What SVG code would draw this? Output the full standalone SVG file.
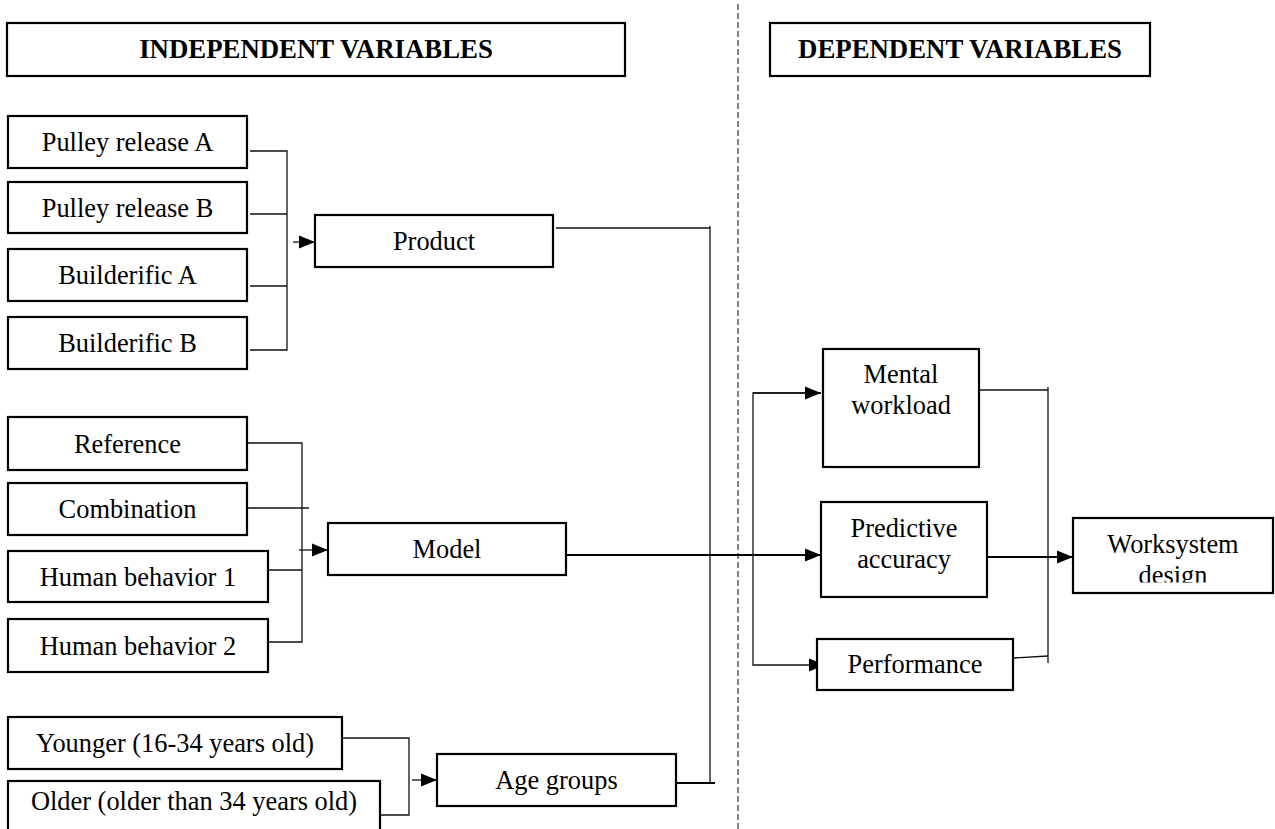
<svg xmlns="http://www.w3.org/2000/svg" width="1275" height="829" viewBox="0 0 1275 829">
<style>
.box{fill:#fff;stroke:#000;stroke-width:2.2}
.t{font-family:"Liberation Serif","Times New Roman",serif;font-size:26.4px;fill:#000;text-anchor:middle}
.h{font-family:"Liberation Serif","Times New Roman",serif;font-size:26.8px;font-weight:bold;fill:#000;text-anchor:middle}
.c{fill:none;stroke:#111;stroke-width:1.3}
.ct{fill:none;stroke:#000;stroke-width:2}
.dash{fill:none;stroke:#333;stroke-width:1.2;stroke-dasharray:6 3}
</style>
<defs>
<marker id="ah" markerWidth="16" markerHeight="14" refX="16" refY="7" orient="auto" markerUnits="userSpaceOnUse"><path d="M0,0.5 L16,7 L0,13.5 z" fill="#000"/></marker>
<clipPath id="wsclip"><rect x="1073" y="518" width="202" height="64.5"/></clipPath>
</defs>

<g id="divider"><line class="dash" x1="738" y1="4" x2="738" y2="829"/></g>

<g id="hdr-independent"><rect class="box" x="7" y="23" width="618" height="53"/><text class="h" x="316" y="58">INDEPENDENT VARIABLES</text></g>
<g id="hdr-dependent"><rect class="box" x="770" y="23" width="380" height="53"/><text class="h" x="960" y="58">DEPENDENT VARIABLES</text></g>

<g id="connectors">
<polyline class="c" points="250,151 287,151 287,350 250,350"/>
<line class="c" x1="250" y1="214" x2="287" y2="214"/>
<line class="c" x1="250" y1="286" x2="287" y2="286"/>
<line class="c" x1="293" y1="242" x2="315" y2="242" marker-end="url(#ah)"/>
<polyline class="c" points="248,443 302,443 302,642 265,642"/>
<line class="c" x1="248" y1="508" x2="309" y2="508"/>
<line class="c" x1="265" y1="570" x2="302" y2="570"/>
<line class="c" x1="299" y1="550" x2="328" y2="550" marker-end="url(#ah)"/>
<polyline class="c" points="342,738 409,738 409,815 380,815"/>
<line class="c" x1="412" y1="780" x2="437" y2="780" marker-end="url(#ah)"/>
<polyline class="c" points="556,228 710,228"/>
<line class="c" x1="710" y1="226" x2="710" y2="783"/>
<line class="ct" x1="676" y1="783" x2="715" y2="783"/>
<line class="ct" x1="566" y1="555" x2="821" y2="555" marker-end="url(#ah)"/>
<polyline class="c" points="821,393 753,393 753,665 825,665" marker-end="url(#ah)"/>
<line class="c" x1="753" y1="393" x2="821" y2="393" marker-end="url(#ah)"/>
<polyline class="c" points="980,390 1048,390"/>
<line class="c" x1="1048" y1="387" x2="1048" y2="663"/>
<line class="c" x1="1014" y1="658" x2="1048" y2="656"/>
<line class="ct" x1="982" y1="557" x2="1073" y2="557" marker-end="url(#ah)"/>
</g>

<g id="n-pulleyA"><rect class="box" x="8" y="116" width="239" height="52"/><text class="t" x="127.5" y="151">Pulley release A</text></g>
<g id="n-pulleyB"><rect class="box" x="8" y="182" width="239" height="51"/><text class="t" x="127.5" y="216.5">Pulley release B</text></g>
<g id="n-buildA"><rect class="box" x="8" y="249" width="239" height="52"/><text class="t" x="127.5" y="284">Builderific A</text></g>
<g id="n-buildB"><rect class="box" x="8" y="317" width="239" height="52"/><text class="t" x="127.5" y="352">Builderific B</text></g>
<g id="n-product"><rect class="box" x="315" y="215" width="238" height="52"/><text class="t" x="434" y="250">Product</text></g>

<g id="n-reference"><rect class="box" x="8" y="417" width="239" height="53"/><text class="t" x="127.5" y="452.5">Reference</text></g>
<g id="n-combination"><rect class="box" x="8" y="483" width="239" height="52"/><text class="t" x="127.5" y="518">Combination</text></g>
<g id="n-hb1"><rect class="box" x="8" y="551" width="260" height="51"/><text class="t" x="138" y="585.5">Human behavior 1</text></g>
<g id="n-hb2"><rect class="box" x="8" y="619" width="260" height="53"/><text class="t" x="138" y="654.5">Human behavior 2</text></g>
<g id="n-model"><rect class="box" x="328" y="523" width="238" height="52"/><text class="t" x="447" y="558">Model</text></g>

<g id="n-younger"><rect class="box" x="8" y="717" width="334" height="52"/><text class="t" x="175" y="752">Younger (16-34 years old)</text></g>
<g id="n-older"><rect class="box" x="8" y="781" width="372" height="55"/><text class="t" x="194" y="810">Older (older than 34 years old)</text></g>
<g id="n-age"><rect class="box" x="437" y="754" width="239" height="52"/><text class="t" x="556.5" y="789">Age groups</text></g>

<g id="n-mental"><rect class="box" x="823" y="349" width="156" height="118"/><text class="t" x="901" y="383">Mental</text><text class="t" x="901" y="414">workload</text></g>
<g id="n-predictive"><rect class="box" x="821" y="502" width="166" height="95"/><text class="t" x="904" y="537">Predictive</text><text class="t" x="904" y="568">accuracy</text></g>
<g id="n-performance"><rect class="box" x="817" y="639" width="196" height="51"/><text class="t" x="915" y="673">Performance</text></g>
<g id="n-worksystem"><rect class="box" x="1073" y="518" width="200" height="75"/><text class="t" x="1173" y="553">Worksystem</text><text class="t" x="1173" y="584" clip-path="url(#wsclip)">design</text></g>
</svg>
